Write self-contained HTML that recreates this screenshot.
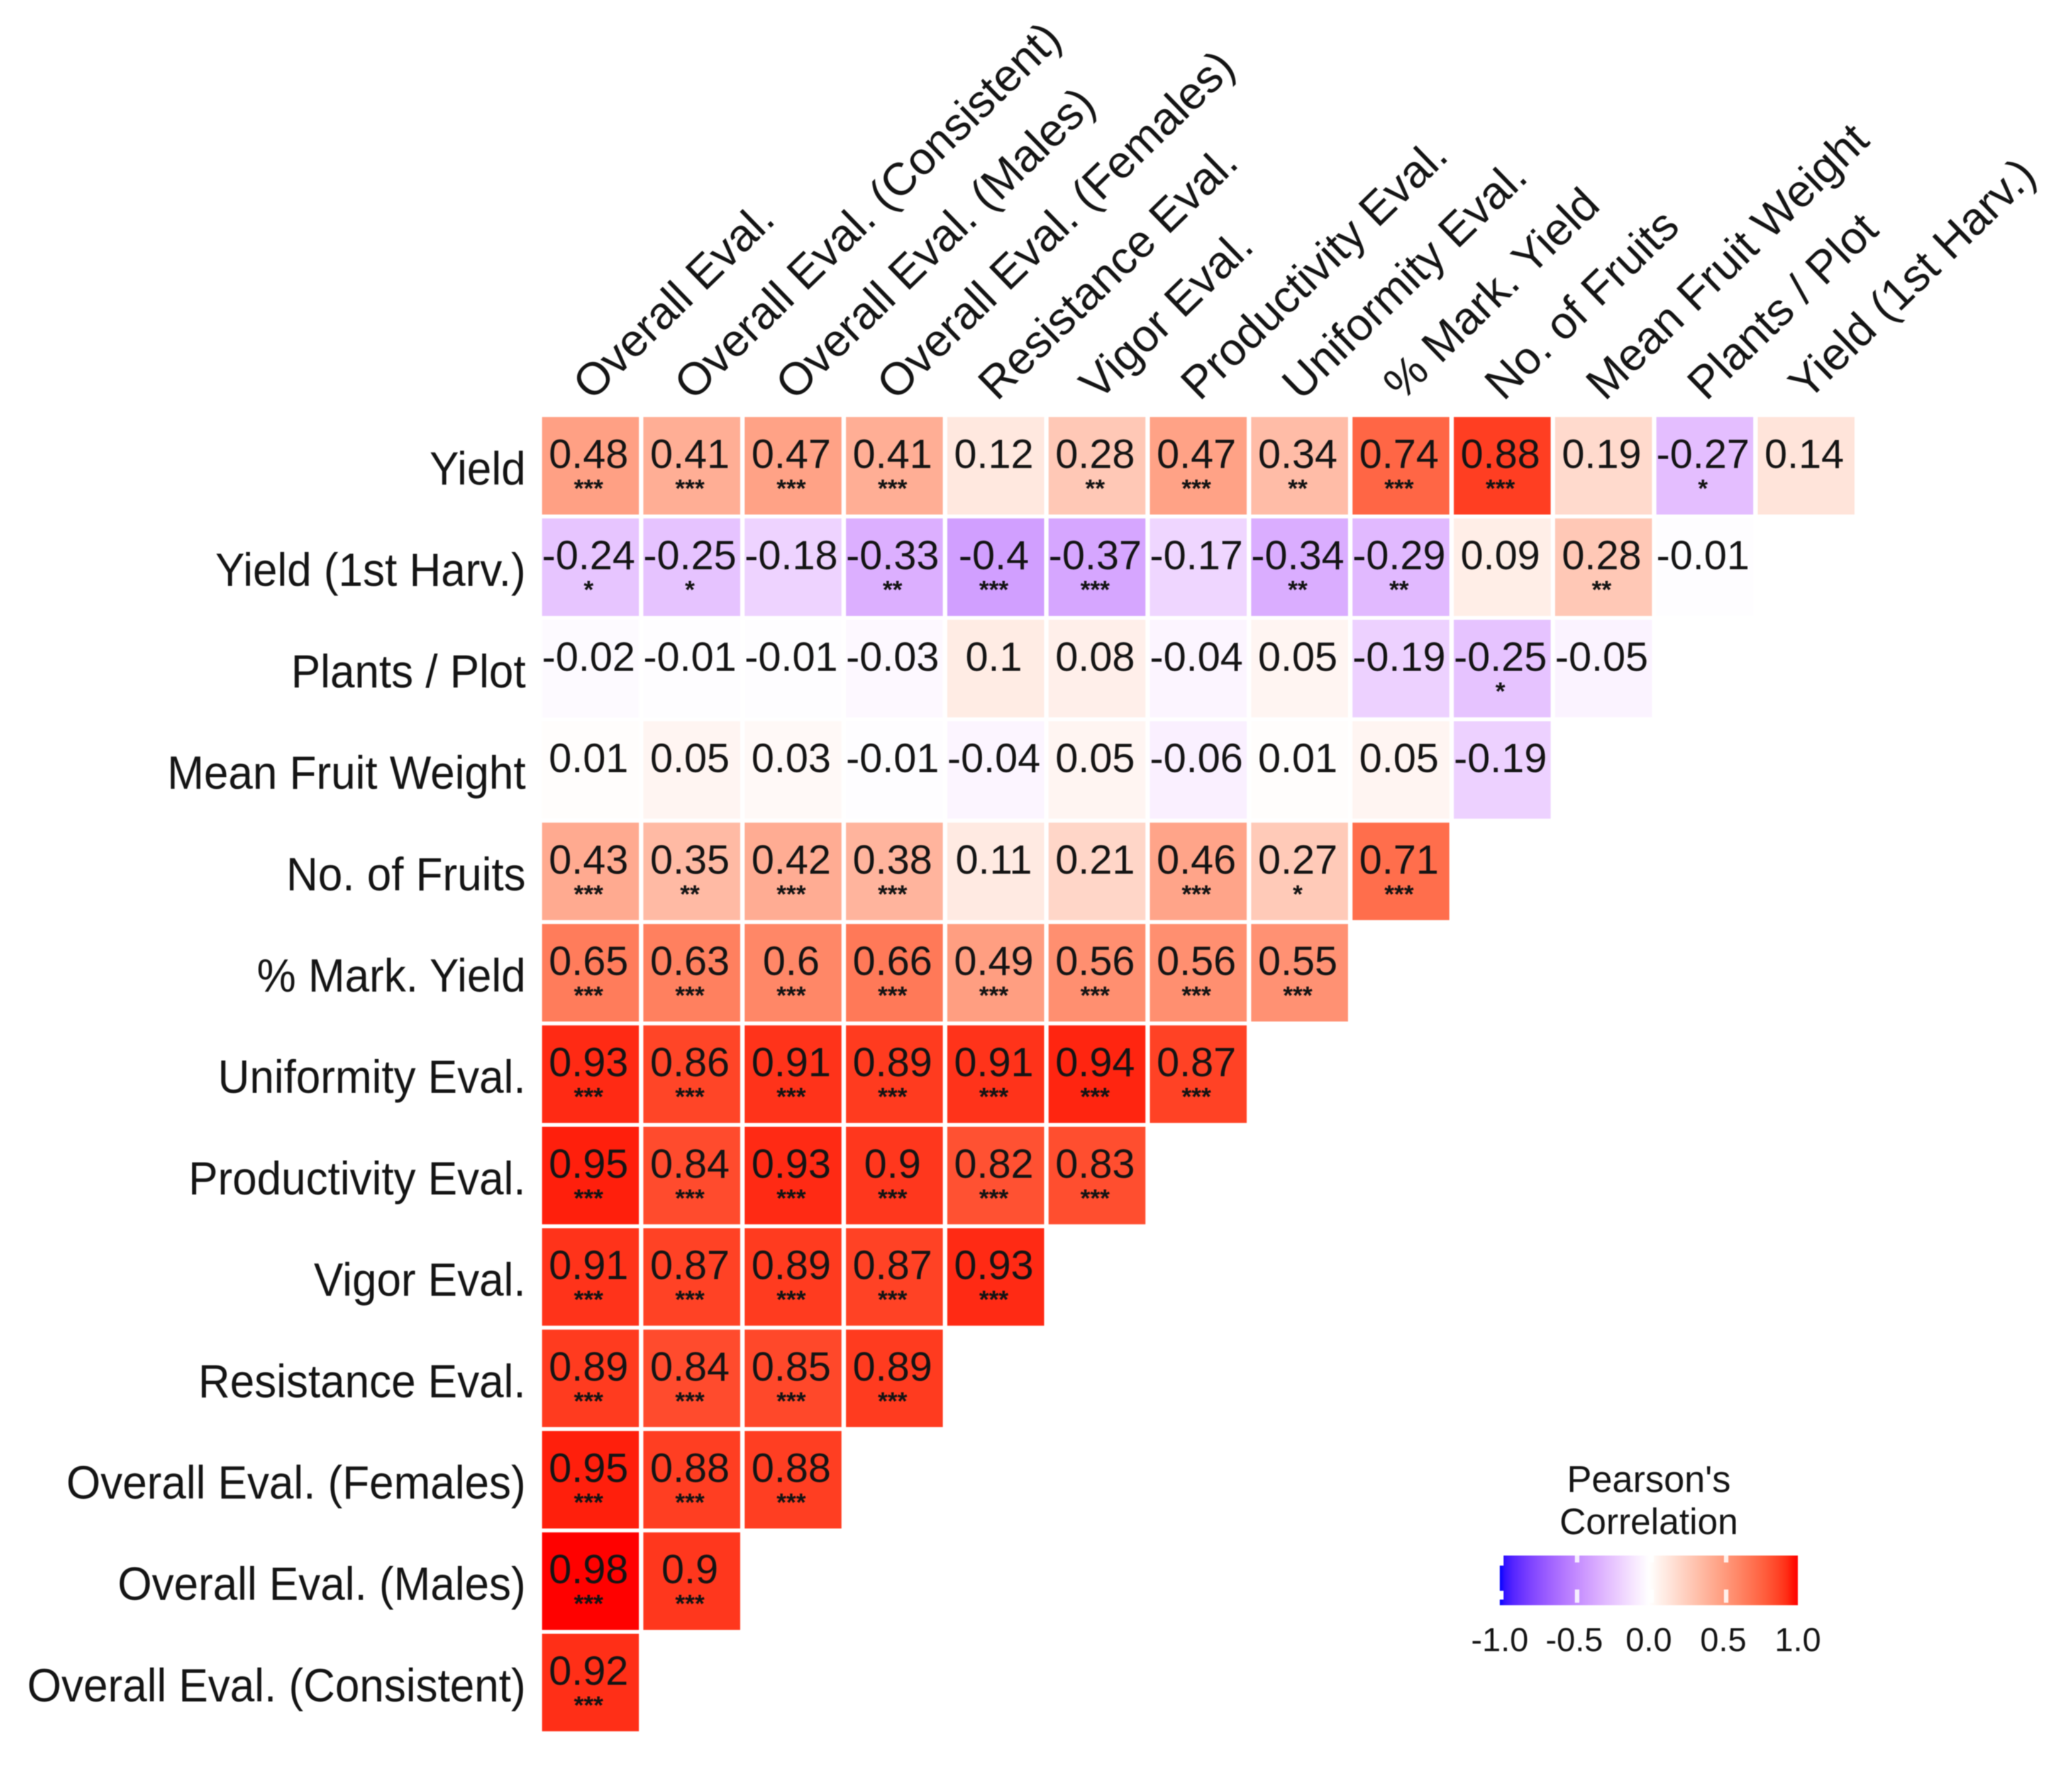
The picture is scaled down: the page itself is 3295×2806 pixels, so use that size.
<!DOCTYPE html>
<html lang="en">
<head>
<meta charset="utf-8">
<title>Pearson's Correlation Heatmap</title>
<style>
html,body{margin:0;padding:0;background:#fff;}
svg{display:block;filter:blur(0.8px);}
text{font-family:"Liberation Sans",Arial,sans-serif;fill:#141414;}
</style>
</head>
<body>
<svg id="chart" xmlns="http://www.w3.org/2000/svg" width="3295" height="2806" viewBox="0 0 3295 2806">
  <rect width="3295" height="2806" fill="#ffffff"/>
  <g id="cells"></g>
  <g id="rowLabelsG"></g>
  <g id="colLabelsG"></g>
  <g id="legend">
    <text x="2622" y="2372" font-size="59" text-anchor="middle">Pearson's</text>
    <text x="2622" y="2439" font-size="58" text-anchor="middle">Correlation</text>
    <defs><linearGradient id="legendGrad" x1="0" x2="1" y1="0" y2="0"></linearGradient></defs>
    <rect x="2385" y="2473" width="474" height="79" fill="url(#legendGrad)"/>
    <rect x="2385" y="2473" width="6" height="16" fill="#ffffff"/>
    <rect x="2385" y="2529" width="6" height="14" fill="#ffffff"/>
    <g id="legendTicks"></g>
  </g>
</svg>
<script>
const rowLabels = ["Yield","Yield (1st Harv.)","Plants / Plot","Mean Fruit Weight","No. of Fruits","% Mark. Yield","Uniformity Eval.","Productivity Eval.","Vigor Eval.","Resistance Eval.","Overall Eval. (Females)","Overall Eval. (Males)","Overall Eval. (Consistent)"];
const colLabels = ["Overall Eval.","Overall Eval. (Consistent)","Overall Eval. (Males)","Overall Eval. (Females)","Resistance Eval.","Vigor Eval.","Productivity Eval.","Uniformity Eval.","% Mark. Yield","No. of Fruits","Mean Fruit Weight","Plants / Plot","Yield (1st Harv.)"];
const correlations = [
  [0.48,0.41,0.47,0.41,0.12,0.28,0.47,0.34,0.74,0.88,0.19,-0.27,0.14],
  [-0.24,-0.25,-0.18,-0.33,-0.4,-0.37,-0.17,-0.34,-0.29,0.09,0.28,-0.01],
  [-0.02,-0.01,-0.01,-0.03,0.1,0.08,-0.04,0.05,-0.19,-0.25,-0.05],
  [0.01,0.05,0.03,-0.01,-0.04,0.05,-0.06,0.01,0.05,-0.19],
  [0.43,0.35,0.42,0.38,0.11,0.21,0.46,0.27,0.71],
  [0.65,0.63,0.6,0.66,0.49,0.56,0.56,0.55],
  [0.93,0.86,0.91,0.89,0.91,0.94,0.87],
  [0.95,0.84,0.93,0.9,0.82,0.83],
  [0.91,0.87,0.89,0.87,0.93],
  [0.89,0.84,0.85,0.89],
  [0.95,0.88,0.88],
  [0.98,0.9],
  [0.92]
];
const significance = [
  ["***","***","***","***","","**","***","**","***","***","","*",""],
  ["*","*","","**","***","***","","**","**","","**",""],
  ["","","","","","","","","","*",""],
  ["","","","","","","","","",""],
  ["***","**","***","***","","","***","*","***"],
  ["***","***","***","***","***","***","***","***"],
  ["***","***","***","***","***","***","***"],
  ["***","***","***","***","***","***"],
  ["***","***","***","***","***"],
  ["***","***","***","***"],
  ["***","***","***"],
  ["***","***"],
  ["***"]
];
const legendTickValues = [-1,-0.5,0,0.5,1];
const legendTickLabels = ["-1.0","-0.5","0.0","0.5","1.0"];

const NS = "http://www.w3.org/2000/svg";
const plot = {left:862, top:663, pitchX:161.1, pitchY:161.2, cellW:154, cellH:155};
const xPos = i => plot.left + i * plot.pitchX;
const yPos = i => plot.top + i * plot.pitchY;
const legendX = v => 2622 + v * 237;

function toLin(c){c/=255;return c<=0.04045?c/12.92:Math.pow((c+0.055)/1.055,2.4);}
function fromLin(c){const v=c<=0.0031308?12.92*c:1.055*Math.pow(c,1/2.4)-0.055;return Math.max(0,Math.min(255,Math.round(v*255)));}
function rgb2lab(r,g,b){
  const R=toLin(r),G=toLin(g),B=toLin(b);
  const X=(0.4124564*R+0.3575761*G+0.1804375*B)/0.95047;
  const Y=0.2126729*R+0.7151522*G+0.0721750*B;
  const Z=(0.0193339*R+0.1191920*G+0.9503041*B)/1.08883;
  const f=t=>t>0.008856?Math.cbrt(t):7.787*t+16/116;
  return [116*f(Y)-16,500*(f(X)-f(Y)),200*(f(Y)-f(Z))];
}
function lab2rgb(L,a,b){
  const fy=(L+16)/116,fx=fy+a/500,fz=fy-b/200;
  const g=t=>t*t*t>0.008856?t*t*t:(t-16/116)/7.787;
  const X=g(fx)*0.95047,Y=g(fy),Z=g(fz)*1.08883;
  const R=3.2404542*X-1.5371385*Y-0.4985314*Z;
  const G=-0.9692660*X+1.8760108*Y+0.0415560*Z;
  const B=0.0556434*X-0.2040259*Y+1.0572252*Z;
  return "rgb("+fromLin(R)+","+fromLin(G)+","+fromLin(B)+")";
}
const labWhite=rgb2lab(255,255,255),labRed=rgb2lab(255,0,0),labBlue=rgb2lab(0,0,255);
function fillColor(v){
  const end=v>=0?labRed:labBlue;
  const t=Math.min(1,Math.abs(v)*(v>=0?1.02:1));
  const bump=v<0?6*4*t*(1-t):0;
  return lab2rgb(labWhite[0]+(end[0]-labWhite[0])*t+bump*0.1,labWhite[1]+(end[1]-labWhite[1])*t+bump,labWhite[2]+(end[2]-labWhite[2])*t);
}
function mk(tag,attrs,parent,txt){
  const el=document.createElementNS(NS,tag);
  for(const k in attrs)el.setAttribute(k,attrs[k]);
  if(txt!==undefined)el.textContent=txt;
  parent.appendChild(el);
  return el;
}

const cellsG=document.getElementById("cells");
correlations.forEach((row,r)=>{
  row.forEach((v,c)=>{
    const cell=mk("rect",{x:xPos(c),y:yPos(r),width:plot.cellW,height:plot.cellH,fill:fillColor(v)},cellsG);
    
    
    const cx=xPos(c)+plot.cellW/2-3;
    const val=mk("text",{x:cx,y:yPos(r)+81,"font-size":65,"text-anchor":"middle"},cellsG,String(v));
    
    
    const s=significance[r][c];
    if(s){
      const st=mk("text",{x:cx,y:yPos(r)+127,"font-size":40,"font-weight":"bold","text-anchor":"middle"},cellsG,s);
      
      
    }
  });
});

const rowG=document.getElementById("rowLabelsG");
rowLabels.forEach((t,r)=>{
  const el=mk("text",{transform:"translate(836,"+(yPos(r)+plot.cellH/2+30)+") scale(0.945,1)","font-size":74,"text-anchor":"end"},rowG,t);
  
  
});

const colG=document.getElementById("colLabelsG");
colLabels.forEach((t,c)=>{
  const el=mk("text",{transform:"translate("+(xPos(c)+plot.cellW/2+2)+",639) rotate(-44.2)","font-size":72.5},colG,t);
  
  
});

const grad=document.getElementById("legendGrad");
for(let i=0;i<=60;i++){
  const p=i/60;
  mk("stop",{offset:p,"stop-color":fillColor(p*2-1)},grad);
}
const tickG=document.getElementById("legendTicks");
legendTickValues.forEach((v,i)=>{
  if(Math.abs(v)<1){
    const a=mk("rect",{x:legendX(v)+1,y:2473,width:7,height:11,fill:"#ffffff","fill-opacity":0.85},tickG);
    
    
    const b=mk("rect",{x:legendX(v)+1,y:2527,width:7,height:21,fill:"#ffffff","fill-opacity":0.85},tickG);
    
    
  }
  const lab=mk("text",{x:legendX(v),y:2625,"font-size":53,"text-anchor":"middle"},tickG,legendTickLabels[i]);
  
  
});
</script>
</body>
</html>
